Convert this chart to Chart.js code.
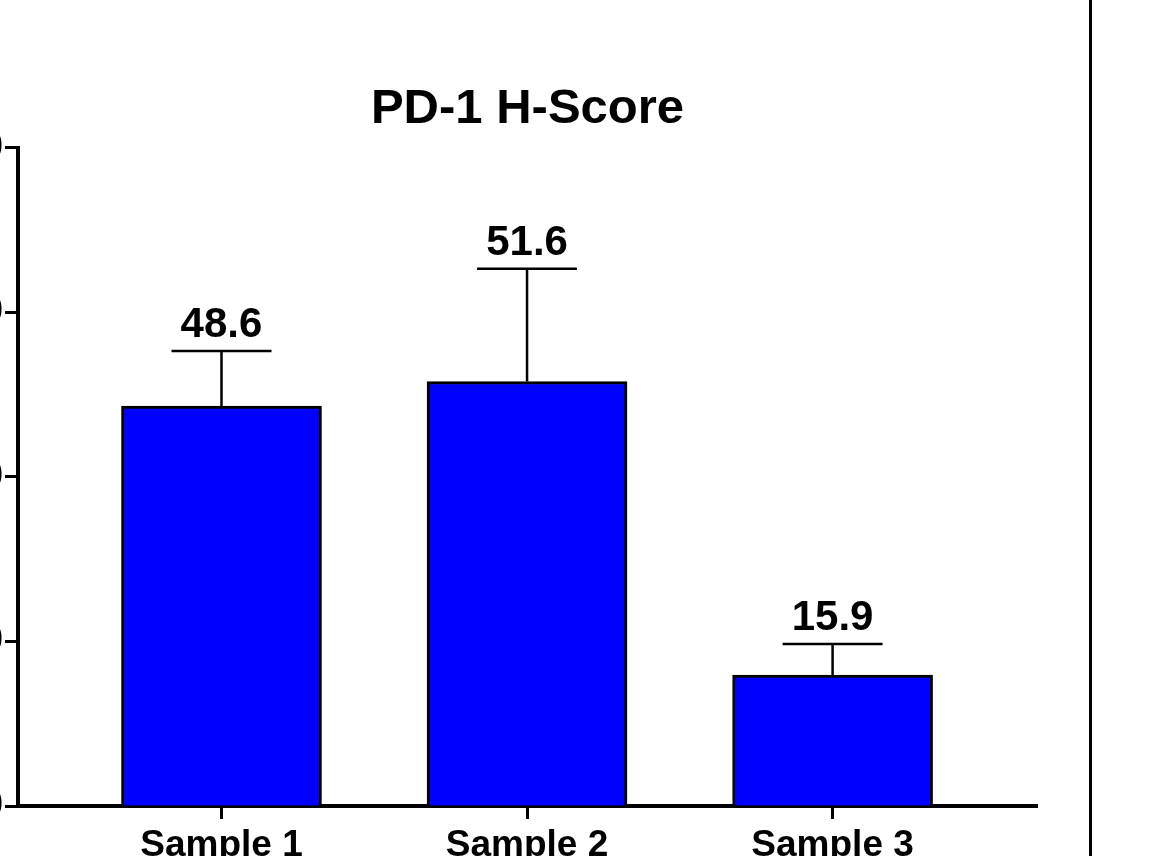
<!DOCTYPE html>
<html>
<head>
<meta charset="utf-8">
<script src="https://cdn.jsdelivr.net/npm/chart.js@4.4.1/dist/chart.umd.min.js"></script>
<style>
  html, body { margin: 0; padding: 0; background: #fff; overflow: hidden; width: 1149px; height: 856px; }
  #wrap { position: relative; width: 1149px; height: 856px; overflow: hidden; }
  #chart { position: absolute; left: -62px; top: 0; }
  #edge { position: absolute; left: 1089px; top: 0; width: 3px; height: 856px; background: #000; }
</style>
</head>
<body>
<div id="wrap">
  <canvas id="chart" width="1211" height="900"></canvas>
  <div id="edge"></div>
</div>
<script>
const categories = ['Sample 1', 'Sample 2', 'Sample 3'];
const hScores = [48.6, 51.6, 15.9];
const hScoreErrors = [6.7, 13.7, 3.8];
const yTicks = [0, 20, 40, 60, 80];

const FONT = "'Liberation Sans', Arial, sans-serif";

// error bars + value labels above the caps
const errorBarPlugin = {
    id: 'errorBars',
    afterDatasetsDraw(chart) {
        const ctx = chart.ctx;
        const yScale = chart.scales.y;
        const meta = chart.getDatasetMeta(0);
        ctx.save();
        meta.data.forEach((bar, i) => {
            const top = yScale.getPixelForValue(hScores[i] + hScoreErrors[i]);
            const half = bar.width / 4;
            ctx.strokeStyle = '#000';
            ctx.lineWidth = 2.5;
            ctx.beginPath();
            ctx.moveTo(bar.x, bar.y);
            ctx.lineTo(bar.x, top);
            ctx.moveTo(bar.x - half, top);
            ctx.lineTo(bar.x + half, top);
            ctx.stroke();

            ctx.fillStyle = '#000';
            ctx.font = `bold 42px ${FONT}`;
            ctx.textAlign = 'center';
            ctx.textBaseline = 'alphabetic';
            ctx.fillText(hScores[i].toFixed(1), bar.x, top - 14);
        });
        ctx.restore();
    }
};

new Chart(document.getElementById('chart'), {
    type: 'bar',
    data: {
        datasets: [{
            data: hScores.map((v, i) => ({ x: i + 1, y: v })),
            backgroundColor: '#0000ff',
            borderColor: '#000',
            borderWidth: 3,
            barThickness: 200
        }]
    },
    options: {
        responsive: false,
        devicePixelRatio: 1,
        animation: false,
        layout: { padding: { left: 0, right: 112, top: 0, bottom: 0 } },
        plugins: {
            legend: { display: false },
            tooltip: { enabled: false },
            title: {
                display: true,
                fullSize: false,
                text: 'PD-1 H-Score',
                color: '#000',
                font: { family: FONT, size: 49, weight: 'bold', lineHeight: 1.2 },
                padding: { top: 80, bottom: 9 }
            }
        },
        scales: {
            x: {
                type: 'linear',
                offset: false,
                min: 0.334,
                max: 3.669,
                afterBuildTicks: (scale) => {
                    scale.ticks = categories.map((c, i) => ({ value: i + 1 }));
                },
                afterFit: (scale) => { scale.height = 94; },
                grid: { offset: false, drawOnChartArea: false, drawTicks: true, tickLength: 13, tickWidth: 3, tickColor: '#000' },
                border: { display: true, color: '#000', width: 4 },
                ticks: {
                    padding: 5,
                    color: '#000',
                    maxRotation: 0,
                    autoSkip: false,
                    font: { family: FONT, size: 37, weight: 'bold' },
                    callback: (value) => categories[value - 1] || ''
                }
            },
            y: {
                min: yTicks[0],
                max: yTicks[yTicks.length - 1],
                afterBuildTicks: (scale) => {
                    scale.ticks = yTicks.map(v => ({ value: v }));
                },
                afterFit: (scale) => { scale.width = 80; },
                grid: { drawOnChartArea: false, drawTicks: true, tickLength: 13, tickWidth: 3, tickColor: '#000' },
                border: { display: true, color: '#000', width: 4 },
                ticks: {
                    padding: 2,
                    color: '#000',
                    font: { family: FONT, size: 36, weight: 'bold' }
                }
            }
        }
    },
    plugins: [errorBarPlugin]
});
</script>
</body>
</html>
